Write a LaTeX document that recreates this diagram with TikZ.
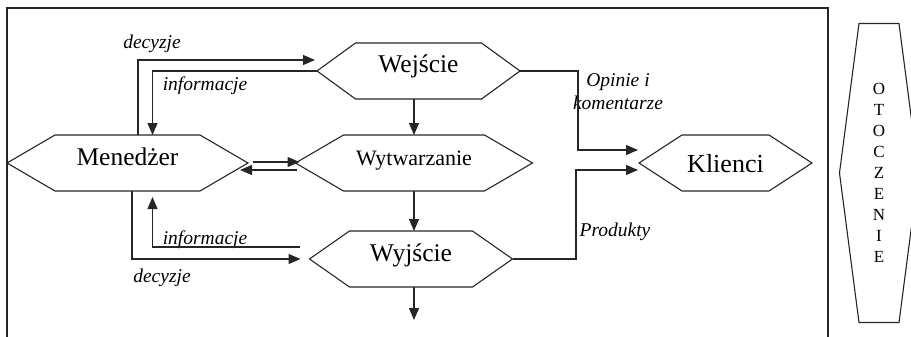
\documentclass[tikz,border=0pt]{standalone}
\usepackage{fontspec}
\setmainfont{Liberation Serif}
\usetikzlibrary{calc, arrows.meta}

% szesciokat wokol wezla: #1 nazwa wezla, #2 wciecie skosnych bokow
\newcommand{\hexa}[2]{%
  \draw[line] (#1.west) -- ($(#1.north west)+(#2,0)$) -- ($(#1.north east)+(-#2,0)$)
    -- (#1.east) -- ($(#1.south east)+(-#2,0)$) -- ($(#1.south west)+(#2,0)$) -- cycle;}

\begin{document}
\begin{tikzpicture}[x=1pt, y=-1pt,
  line/.style={draw=black!85, line width=1.1pt},
  arr/.style={line, -{Triangle[length=12pt, width=10pt]}},
  blok/.style={rectangle, inner sep=0pt, outer sep=0pt, minimum height=56pt,
    text height=12pt, text depth=8pt, font=\fontsize{25.5}{30}\selectfont},
  etykieta/.style={inner sep=0pt, align=center, font=\fontsize{19.5}{23}\selectfont\itshape}]

\useasboundingbox (0,0) rectangle (911,337);

% ramka systemu (dol poza obrazem)
\draw[line] (7,337) -- (7,8) -- (828,8) -- (828,337);

% bloki
\node[blok, minimum width=241pt] (men) at (127.5,163) {Menedżer};
\hexa{men}{48}
\node[blok, minimum width=203pt] (wej) at (418.5,71) {Wejście};
\hexa{wej}{38.5}
\node[blok, minimum width=237pt, font=\fontsize{22}{26}\selectfont] (wyt) at (414,163) {Wytwarzanie};
\hexa{wyt}{48}
\node[blok, minimum width=203pt] (wyj) at (411,259) {Wyjście};
\hexa{wyj}{40}
\node[blok, minimum width=173pt, text height=18pt, text depth=0pt,
  font=\fontsize{26}{30}\selectfont] (kli) at (725.5,163) {Klienci};
\hexa{kli}{43}

% otoczenie
\node[blok, minimum width=79pt, minimum height=299pt, align=center, text height=, text depth=,
  font=\fontsize{17}{21}\selectfont] (oto) at (879,173)
  {O\\T\\O\\C\\Z\\E\\N\\I\\E};
\hexa{oto}{19.5}

% etykiety
\node[etykieta] (decG) at (152,44) {decyzje};
\node[etykieta] (infG) at (205,86) {informacje};
\node[etykieta] (infD) at (205,240) {informacje};
\node[etykieta] (decD) at (162,277.5) {decyzje};
\node[etykieta] (opi) at (618,92) {Opinie i\\komentarze};
\node[etykieta] (pro) at (615,231.5) {Produkty};

% menedzer -- wejscie
\coordinate (wejD) at (315,60);
\draw[arr] ($(men.north)+(10.5,0)$) |- (wejD);
\draw[arr] (wej.west) -| ($(men.north)+(25,0)$);

% menedzer -- wytwarzanie
\draw[arr] ($(men.east)+(5,-1)$) -- ($(wyt.west)+(4,-1)$);
\draw[arr] ($(wyt.west)+(1,7)$) -- ($(men.east)+(-8,7)$);

% przeplyw w dol
\draw[arr] (wej.south -| wyt.north) -- (wyt.north);
\draw[arr] (wyt.south) -- (wyt.south |- wyj.north);
\coordinate (wyjD) at (414,320);
\draw[arr] (wyj.south -| wyjD) -- (wyjD);

% menedzer -- wyjscie
\coordinate (wyjI) at (300,247);
\draw[arr] (wyjI) -| ($(men.south)+(25,6)$);
\coordinate (wyjL) at ($(wyj.west)+(-9,0)$);
\draw[arr] ($(men.south)+(4.5,0)$) |- (wyjL);

% do klientow
\coordinate (kliG) at (638,150);
\draw[arr] (wej.east) -| ($(kliG)+(-60,0)$) -- (kliG);
\coordinate (kliD) at (638,170);
\draw[arr] (wyj.east) -| ($(kliD)+(-62,0)$) -- (kliD);

\end{tikzpicture}
\end{document}
